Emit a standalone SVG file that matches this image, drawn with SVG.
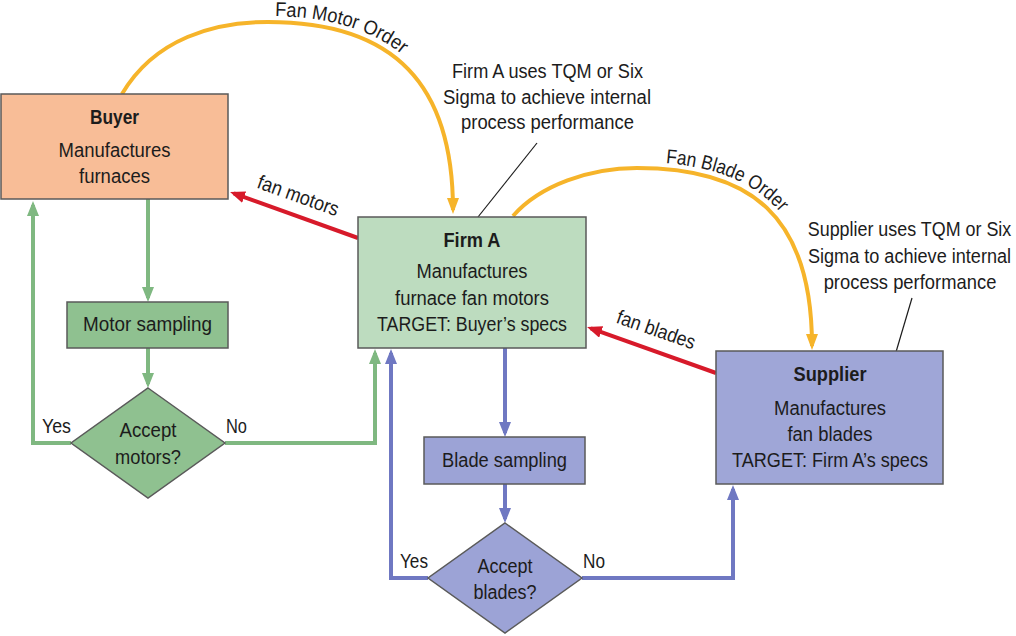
<svg xmlns="http://www.w3.org/2000/svg" width="1016" height="636" viewBox="0 0 1016 636">
<style>
  text { font-family: "Liberation Sans", Arial, sans-serif; font-size: 20px; fill: #1c1c1c; }
  .b { font-weight: bold; }
  .c { text-anchor: middle; }
  .box { stroke: #5a5a5a; stroke-width: 1.5; }
  .g { fill: none; stroke: #7fb881; stroke-width: 4; }
  .bl { fill: none; stroke: #6f78c2; stroke-width: 4; }
  .r { fill: none; stroke: #d71a2a; stroke-width: 4; }
  .o { fill: none; stroke: #f6b42a; stroke-width: 4; }
  .call { fill: none; stroke: #1c1c1c; stroke-width: 1.2; }
</style>
<defs>
  <marker id="ag" markerUnits="userSpaceOnUse" markerWidth="16" markerHeight="14" refX="11" refY="6" orient="auto"><path d="M0,0 L15,6 L0,12 z" fill="#7fb881"/></marker>
  <marker id="ab" markerUnits="userSpaceOnUse" markerWidth="16" markerHeight="14" refX="11" refY="6" orient="auto"><path d="M0,0 L15,6 L0,12 z" fill="#6f78c2"/></marker>
  <marker id="ar" markerUnits="userSpaceOnUse" markerWidth="16" markerHeight="14" refX="11" refY="6" orient="auto"><path d="M0,0 L15,6 L0,12 z" fill="#d71a2a"/></marker>
  <marker id="ao" markerUnits="userSpaceOnUse" markerWidth="17" markerHeight="14" refX="12" refY="6" orient="auto"><path d="M0,0 L16,6 L0,12 z" fill="#f6b42a"/></marker>
  <path id="tpMotor" d="M117,91 C150,32 213,16 268,16 C400,16 459,82 459,205"/>
  <path id="tpBlade" d="M508,212 C536,179 588,162 637,162 C754,162 818,212 818,340"/>
</defs>

<g id="connectors">
  <!-- orange order arcs -->
  <path class="o" d="M122,94 C155,38 215,22 268,22 C395,22 453,85 453,210" marker-end="url(#ao)"/>
  <path class="o" d="M513,216 C540,185 590,168 637,168 C750,168 812,215 812,346" marker-end="url(#ao)"/>
  <!-- red shipment arrows -->
  <path class="r" d="M358,238 L233.8,193.4" marker-end="url(#ar)"/>
  <path class="r" d="M716,373 L590.8,328.3" marker-end="url(#ar)"/>
  <!-- green motor flow -->
  <path class="g" d="M148,199 L148,298" marker-end="url(#ag)"/>
  <path class="g" d="M148,348 L148,384" marker-end="url(#ag)"/>
  <path class="g" d="M71,443 L33,443 L33,205" marker-end="url(#ag)"/>
  <path class="g" d="M225,443 L375,443 L375,353" marker-end="url(#ag)"/>
  <!-- blue blade flow -->
  <path class="bl" d="M505,348 L505,433" marker-end="url(#ab)"/>
  <path class="bl" d="M505,484 L505,519" marker-end="url(#ab)"/>
  <path class="bl" d="M428,578 L391,578 L391,353" marker-end="url(#ab)"/>
  <path class="bl" d="M582,578 L733,578 L733,489" marker-end="url(#ab)"/>
  <!-- callout lines -->
  <line class="call" x1="478" y1="217" x2="537" y2="143"/>
  <line class="call" x1="896" y1="352" x2="912" y2="298"/>
  <!-- connector labels -->
  <text><textPath href="#tpMotor" startOffset="184" textLength="135" lengthAdjust="spacingAndGlyphs">Fan Motor Order</textPath></text>
  <text><textPath href="#tpBlade" startOffset="171" textLength="128" lengthAdjust="spacingAndGlyphs">Fan Blade Order</textPath></text>
  <text class="c" transform="translate(296,202) rotate(19.8)" textLength="85" lengthAdjust="spacingAndGlyphs">fan motors</text>
  <text class="c" transform="translate(654,336) rotate(19.2)" textLength="82" lengthAdjust="spacingAndGlyphs">fan blades</text>
  <text x="42" y="433" textLength="29" lengthAdjust="spacingAndGlyphs">Yes</text>
  <text x="226" y="433" textLength="21" lengthAdjust="spacingAndGlyphs">No</text>
  <text x="400" y="568" textLength="28" lengthAdjust="spacingAndGlyphs">Yes</text>
  <text x="583" y="568" textLength="22" lengthAdjust="spacingAndGlyphs">No</text>
</g>

<g id="buyer">
  <rect class="box" x="1" y="94" width="227" height="105" fill="#f8bd97"/>
  <text class="c b" x="114.5" y="124" textLength="49" lengthAdjust="spacingAndGlyphs">Buyer</text>
  <text class="c" x="114.5" y="157" textLength="112" lengthAdjust="spacingAndGlyphs">Manufactures</text>
  <text class="c" x="114.5" y="183" textLength="71" lengthAdjust="spacingAndGlyphs">furnaces</text>
</g>

<g id="firmA">
  <rect class="box" x="358" y="217" width="228" height="131" fill="#bddcbf"/>
  <text class="c b" x="472" y="247" textLength="57" lengthAdjust="spacingAndGlyphs">Firm A</text>
  <text class="c" x="472" y="278" textLength="111" lengthAdjust="spacingAndGlyphs">Manufactures</text>
  <text class="c" x="472" y="305" textLength="154" lengthAdjust="spacingAndGlyphs">furnace fan motors</text>
  <text class="c" x="472" y="331" textLength="190" lengthAdjust="spacingAndGlyphs">TARGET: Buyer’s specs</text>
</g>

<g id="supplier">
  <rect class="box" x="716" y="351" width="227" height="133" fill="#9fa6d7"/>
  <text class="c b" x="830" y="381" textLength="73" lengthAdjust="spacingAndGlyphs">Supplier</text>
  <text class="c" x="830" y="415" textLength="112" lengthAdjust="spacingAndGlyphs">Manufactures</text>
  <text class="c" x="830" y="441" textLength="85" lengthAdjust="spacingAndGlyphs">fan blades</text>
  <text class="c" x="830" y="467" textLength="196" lengthAdjust="spacingAndGlyphs">TARGET: Firm A’s specs</text>
</g>

<g id="motorSampling">
  <rect class="box" x="67" y="302" width="161" height="46" fill="#8fc190"/>
  <text class="c" x="147.5" y="331" textLength="129" lengthAdjust="spacingAndGlyphs">Motor sampling</text>
</g>

<g id="acceptMotors">
  <polygon class="box" points="148,388 225,443 148,498 71,443" fill="#8fc190"/>
  <text class="c" x="148" y="437" textLength="57" lengthAdjust="spacingAndGlyphs">Accept</text>
  <text class="c" x="148" y="464" textLength="66" lengthAdjust="spacingAndGlyphs">motors?</text>
</g>

<g id="bladeSampling">
  <rect class="box" x="424" y="437" width="161" height="47" fill="#9ca3d6"/>
  <text class="c" x="504.5" y="467" textLength="125" lengthAdjust="spacingAndGlyphs">Blade sampling</text>
</g>

<g id="acceptBlades">
  <polygon class="box" points="505,523 582,578 505,633 428,578" fill="#9ca3d6"/>
  <text class="c" x="505" y="573" textLength="55" lengthAdjust="spacingAndGlyphs">Accept</text>
  <text class="c" x="505" y="599" textLength="63" lengthAdjust="spacingAndGlyphs">blades?</text>
</g>

<g id="firmACallout">
  <text class="c" x="547.5" y="78" textLength="191" lengthAdjust="spacingAndGlyphs">Firm A uses TQM or Six</text>
  <text class="c" x="547" y="104" textLength="208" lengthAdjust="spacingAndGlyphs">Sigma to achieve internal</text>
  <text class="c" x="547.5" y="129" textLength="173" lengthAdjust="spacingAndGlyphs">process performance</text>
</g>

<g id="supplierCallout">
  <text class="c" transform="translate(909.5,236) scale(0.895,1)">Supplier uses TQM or Six</text>
  <text class="c" transform="translate(909.5,263) scale(0.905,1)">Sigma to achieve internal</text>
  <text class="c" transform="translate(910,289) scale(0.92,1)">process performance</text>
</g>
</svg>
